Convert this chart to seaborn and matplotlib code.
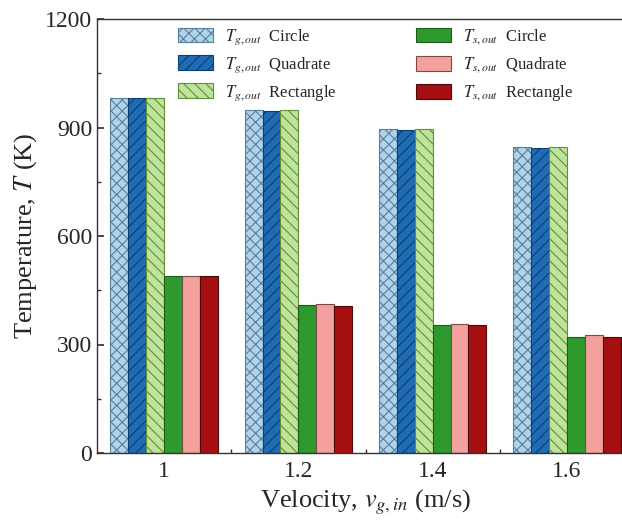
import matplotlib
matplotlib.use("Agg")
import matplotlib.pyplot as plt
import seaborn as sns
import pandas as pd
from matplotlib.patches import Patch
from matplotlib.ticker import MultipleLocator, FixedLocator

velocities = ["1", "1.2", "1.4", "1.6"]
series = [r"$T_{g,out}$  Circle", r"$T_{g,out}$  Quadrate", r"$T_{g,out}$  Rectangle",
          r"$T_{s,out}$  Circle", r"$T_{s,out}$  Quadrate", r"$T_{s,out}$  Rectangle"]
tg_circle = [982, 949, 897, 846]
tg_quadrate = [981, 947, 893, 844]
tg_rectangle = [982, 949, 897, 846]
ts_circle = [490, 409, 354, 320]
ts_quadrate = [490, 413, 358, 325]
ts_rectangle = [490, 407, 353, 320]

values = [tg_circle, tg_quadrate, tg_rectangle, ts_circle, ts_quadrate, ts_rectangle]
rows = []
for s, vals in zip(series, values):
    for v, t in zip(velocities, vals):
        rows.append({"Velocity": v, "Series": s, "T": t})
df = pd.DataFrame(rows)

facecolors = ["#b0d2ea", "#1f6cb5", "#bfe39a", "#2e9a2e", "#f4a09c", "#a50f12"]
edgecolors = ["#5a7f9a", "#0d3e70", "#5f8f3a", "#1e5a1e", "#7a4a48", "#4a0a0a"]
hatches = ["xxx", "///", "\\\\\\", "", "", ""]

sns.set_theme(style="ticks")
plt.rcParams["font.family"] = ["Liberation Serif", "DejaVu Serif"]
plt.rcParams["mathtext.fontset"] = "stix"
plt.rcParams["hatch.linewidth"] = 0.8

fig = plt.figure(figsize=(6.22, 5.29), dpi=100)
ax = fig.add_axes([97/622, (529-453)/529, (634-97)/622, (453-19)/529])

sns.barplot(data=df, x="Velocity", y="T", hue="Series", order=velocities,
            hue_order=series, palette=facecolors, width=0.8, ax=ax,
            saturation=1, legend=False, errorbar=None)

for cont, fc, ec, h in zip(ax.containers, facecolors, edgecolors, hatches):
    for bar in cont:
        bar.set_facecolor(fc)
        bar.set_edgecolor(ec)
        bar.set_hatch(h)
        bar.set_linewidth(0.8)

ax.set_xlim(-0.5, 3.5)
ax.set_ylim(0, 1200)
ax.yaxis.set_major_locator(MultipleLocator(300))
ax.yaxis.set_minor_locator(MultipleLocator(150))
ax.xaxis.set_minor_locator(FixedLocator([0.5, 1.5, 2.5]))
ax.tick_params(axis="both", which="both", direction="in", labelsize=17, color="#333333")
ax.tick_params(axis="both", which="major", length=5)
ax.tick_params(axis="both", which="minor", length=3)
ax.tick_params(axis="x", pad=6)
for sp in ax.spines.values():
    sp.set_linewidth(1.0)
    sp.set_color("#333333")
ax.spines["right"].set_visible(False)

ax.set_xlabel(r"Velocity, $v_{g,in}$ (m/s)", fontsize=19, labelpad=4)
ax.set_ylabel(r"Temperature, $T$ (K)", fontsize=19, labelpad=4)

handles = [Patch(facecolor=fc, edgecolor=ec, hatch=h, linewidth=0.8)
           for fc, ec, h in zip(facecolors, edgecolors, hatches)]
ax.legend(handles, series, ncol=2, frameon=False, fontsize=12,
          loc="upper left", bbox_to_anchor=(178/622, 1 - 27/529),
          bbox_transform=fig.transFigure,
          handlelength=2.1, handleheight=1.0, labelspacing=0.5,
          columnspacing=4.8, handletextpad=0.7, borderaxespad=0, borderpad=0)

fig.savefig("out.png", dpi=100)
